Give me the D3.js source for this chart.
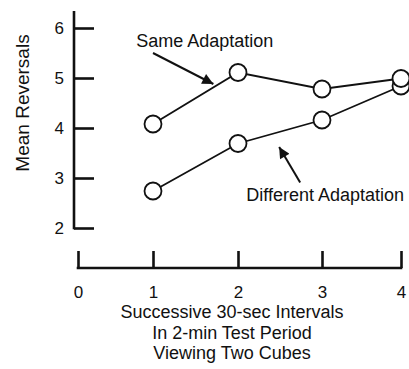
<!DOCTYPE html>
<meta charset="utf-8">
<style>
body { margin: 0; background: #fff; }
text { font-family: "Liberation Sans", Arial, sans-serif; fill: #111; }
.axis path { display: none; }
.axis line { stroke: #111; stroke-width: 2.6px; }
.axis text { font-size: 17px; }
</style>
<body>
<script src="https://cdn.jsdelivr.net/npm/d3@7"></script>
<script>

var width = 409, height = 369;

// data
var intervals = [1, 2, 3, 4];
var sameAdaptation = [4.08, 5.11, 4.78, 4.99];
var differentAdaptation = [2.74, 3.69, 4.16, 4.84];
var xTicks = [0, 1, 2, 3, 4];
var yTicks = [2, 3, 4, 5, 6];
var xTitle = ["Successive 30-sec Intervals", "In 2-min Test Period", "Viewing Two Cubes"];
var yTitle = "Mean Reversals";
var labels = [
  {text: "Same Adaptation", x: 1.61, y: 5.63, from: [1.0, 5.5], to: [1.71, 4.88]},
  {text: "Different Adaptation", x: 3.04, y: 2.55, from: [2.74, 2.91], to: [2.49, 3.62]}
];

var svg = d3.select("body").append("svg")
    .attr("width", width)
    .attr("height", height);

// the printed x ticks are not evenly spaced
var x = d3.scaleLinear()
    .domain([0, 1, 2, 3, 4])
    .range([78, 153, 238, 322, 401]);

var y = d3.scaleLinear()
    .domain([2, 6])
    .range([228, 28]);

svg.append("defs").append("marker")
    .attr("id", "head")
    .attr("viewBox", "0 0 10 10")
    .attr("refX", 10)
    .attr("refY", 5)
    .attr("markerUnits", "userSpaceOnUse")
    .attr("markerWidth", 13)
    .attr("markerHeight", 11)
    .attr("orient", "auto")
  .append("path")
    .attr("d", "M0,0L10,5L0,10z")
    .style("fill", "#111");

// y axis
var yAxis = svg.append("g")
    .attr("class", "axis")
    .attr("transform", "translate(74,0)")
    .call(d3.axisLeft(y).tickValues(yTicks).tickFormat(d3.format("d"))
      .tickSizeInner(-20).tickSizeOuter(0).tickPadding(10));

yAxis.append("line")
    .attr("x1", 0).attr("x2", 0)
    .attr("y1", y(2) + 1.3)
    .attr("y2", y(6.34));

// x axis
var xAxis = svg.append("g")
    .attr("class", "axis")
    .attr("transform", "translate(0,268)")
    .call(d3.axisBottom(x).tickValues(xTicks).tickFormat(d3.format("d"))
      .tickSizeInner(-17).tickSizeOuter(0).tickPadding(18));

xAxis.append("line")
    .attr("x1", x(0) - 1.3).attr("x2", x(4) + 1.3)
    .attr("y1", 0).attr("y2", 0);

// axis titles
svg.append("text")
    .attr("transform", "translate(29," + y(4.5) + ") rotate(-90)")
    .attr("text-anchor", "middle")
    .style("font-size", "19px")
    .text(yTitle);

svg.append("g").selectAll("text")
    .data(xTitle)
  .enter().append("text")
    .attr("x", 232)
    .attr("y", function(d, i) { return 318 + i * 20.5; })
    .attr("text-anchor", "middle")
    .style("font-size", "18px")
    .text(function(d) { return d; });

// series
var line = d3.line()
    .x(function(d) { return x(d[0]); })
    .y(function(d) { return y(d[1]); });

[sameAdaptation, differentAdaptation].forEach(function(s) {
  var pts = intervals.map(function(v, i) { return [v, s[i]]; });
  svg.append("path")
      .datum(pts)
      .attr("d", line)
      .style("fill", "none")
      .style("stroke", "#111")
      .style("stroke-width", 1.8);
});

// different first so the same series circle sits on top at 4
[differentAdaptation, sameAdaptation].forEach(function(s) {
  svg.append("g").selectAll("circle")
      .data(intervals.map(function(v, i) { return [v, s[i]]; }))
    .enter().append("circle")
      .attr("cx", function(d) { return x(d[0]); })
      .attr("cy", function(d) { return y(d[1]); })
      .attr("r", 8.5)
      .style("fill", "#fff")
      .style("stroke", "#111")
      .style("stroke-width", 1.8);
});

// annotations
labels.forEach(function(d) {
  svg.append("text")
      .attr("x", x(d.x))
      .attr("y", y(d.y))
      .attr("text-anchor", "middle")
      .style("font-size", "18px")
      .text(d.text);
  svg.append("line")
      .attr("x1", x(d.from[0])).attr("y1", y(d.from[1]))
      .attr("x2", x(d.to[0])).attr("y2", y(d.to[1]))
      .style("stroke", "#111")
      .style("stroke-width", 2)
      .attr("marker-end", "url(#head)");
});

</script>
</body>
